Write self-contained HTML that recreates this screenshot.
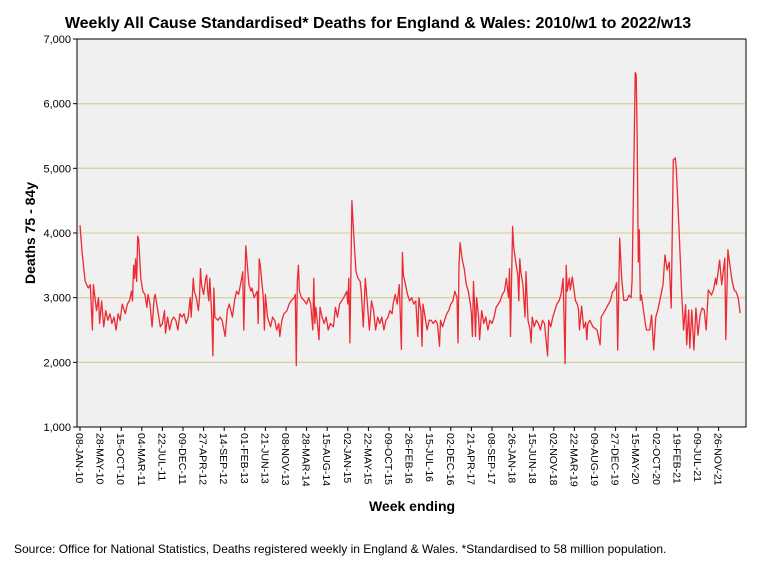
<!DOCTYPE html>
<html><head><meta charset="utf-8"><style>
body{margin:0;background:#fff;font-family:"Liberation Sans",Arial,sans-serif;}
svg text{font-family:"Liberation Sans",Arial,sans-serif;}
</style></head><body>
<svg id="chart" width="757" height="563" xmlns="http://www.w3.org/2000/svg">
<rect width="757" height="563" fill="#fff"/>
<text x="378" y="28" text-anchor="middle" font-size="16" font-weight="bold">Weekly All Cause Standardised* Deaths for England &amp; Wales: 2010/w1 to 2022/w13</text>
<rect x="77" y="39" width="669" height="388" fill="#f0f0f0" stroke="#000" stroke-width="1"/>
<g id="grid"></g><g id="yt"></g><g id="xt"></g>
<path id="series" fill="none" stroke="#ec2a33" stroke-width="1.3" stroke-linejoin="round"/>
<text transform="translate(35,233) rotate(-90)" text-anchor="middle" font-size="14" font-weight="bold">Deaths 75 - 84y</text>
<text x="412" y="511" text-anchor="middle" font-size="14" font-weight="bold">Week ending</text>
<text x="14" y="553" font-size="12">Source: Office for National Statistics, Deaths registered weekly in England &amp; Wales. *Standardised to 58 million population.</text>
</svg>
<script>
const weeks=[0,2,5,8,10,12,13,16,18,19,21,23,25,27,29,31,33,35,37,39,41,44,46,48,50,51,52,53,54,55,56,57,59,61,63,65,66,68,70,72,73,76,78,80,82,83,85,87,89,91,93,95,97,99,101,103,105,107,108,110,111,113,115,116,117,118,120,122,123,124,125,126,128,129,130,131,134,136,138,141,143,145,148,150,152,154,157,158,159,160,161,164,166,167,169,172,173,174,175,178,179,180,182,185,187,189,191,193,194,196,198,201,203,205,208,209,210,211,212,213,215,218,220,222,224,226,227,228,229,232,233,235,237,239,241,243,246,248,250,252,254,256,259,260,261,262,263,264,266,268,270,272,273,275,277,279,281,283,285,287,289,291,293,295,297,299,301,303,304,306,308,310,312,313,314,316,318,320,322,324,326,328,329,331,332,333,335,337,339,341,343,345,347,349,350,352,354,356,358,360,362,364,366,367,368,369,371,373,375,377,379,380,381,382,383,384,385,387,388,390,392,394,396,398,400,402,404,406,408,410,412,414,416,417,418,420,421,423,425,426,427,428,430,432,433,435,437,438,439,441,443,445,447,449,451,454,455,457,459,461,463,465,467,469,471,472,473,475,476,478,481,483,484,485,487,489,491,492,493,495,498,502,505,506,510,515,517,519,521,522,524,526,528,531,533,535,536,538,539,540,541,542,543,544,545,547,549,550,553,555,557,559,561,564,566,568,570,572,574,576,578,579,582,584,586,588,589,591,592,594,596,598,600,602,604,606,608,610,613,615,617,618,621,623,626,627,629,631,633,635,637,639,641];
const deaths=[4120,3700,3250,3150,3200,2500,3200,2800,3000,2600,2950,2550,2800,2650,2750,2600,2700,2500,2750,2650,2900,2750,2900,2950,3100,2950,3500,3300,3600,3250,3950,3900,3300,3100,3050,2850,3050,2900,2550,3000,3050,2750,2550,2600,2800,2450,2700,2500,2650,2700,2650,2500,2750,2700,2750,2600,2700,3000,2700,3300,3100,3000,2800,3000,3450,3200,3050,3300,3350,3100,2950,3300,2700,2100,3150,2700,2650,2700,2650,2400,2800,2900,2700,2950,3100,3050,3300,3400,2500,3200,3800,3200,3100,3150,3000,3100,2600,3600,3500,3000,2500,3050,2700,2550,2700,2650,2500,2600,2400,2650,2750,2800,2900,2950,3000,3050,1950,3250,3500,3100,3000,2950,2900,3000,2900,2500,3300,2600,2850,2350,2850,2700,2600,2700,2500,2600,2550,2850,2700,2900,2950,3000,3100,2900,3300,2300,3400,4500,3900,3400,3300,3250,3100,2550,3300,2900,2500,2950,2800,2500,2700,2600,2700,2500,2650,2700,2800,2750,2900,3050,2900,3200,2200,3700,3350,3200,3050,2950,3000,2900,2950,2400,3000,2800,2250,2900,2700,2500,2650,2650,2600,2650,2600,2250,2650,2550,2650,2750,2800,2900,2950,3100,3000,2300,3500,3850,3600,3450,3200,3100,2900,2750,2400,3250,2900,2400,3000,2700,2350,2800,2600,2700,2500,2650,2600,2700,2850,2900,2950,3050,3100,3300,3000,3450,2400,4100,3800,3550,3350,2950,3600,3400,3200,2700,3400,2650,2500,2300,2700,2550,2650,2600,2500,2650,2600,2100,2650,2550,2700,2800,2900,2950,3050,3300,1980,3500,3100,3300,3120,3320,2960,2890,2810,2500,2870,2530,2620,2350,2590,2650,2550,2500,2270,2700,2810,2960,3090,3120,3230,2190,3920,3270,2960,2960,3040,3000,3270,5280,6480,6450,5430,3550,4050,2960,3040,2810,2580,2500,2500,2730,2190,2700,2810,3040,3200,3660,3430,3550,2840,5130,5160,4970,3890,3120,2500,2890,2270,2810,2220,2810,2190,2840,2420,2730,2840,2810,2500,3120,3040,3120,3300,3200,3580,3200,3610,2350,3740,3500,3270,3120,3090,3000,2760];
const yTicks=[1000,2000,3000,4000,5000,6000,7000];
const xTickLabels=["08-JAN-10","28-MAY-10","15-OCT-10","04-MAR-11","22-JUL-11","09-DEC-11","27-APR-12","14-SEP-12","01-FEB-13","21-JUN-13","08-NOV-13","28-MAR-14","15-AUG-14","02-JAN-15","22-MAY-15","09-OCT-15","26-FEB-16","15-JUL-16","02-DEC-16","21-APR-17","08-SEP-17","26-JAN-18","15-JUN-18","02-NOV-18","22-MAR-19","09-AUG-19","27-DEC-19","15-MAY-20","02-OCT-20","19-FEB-21","09-JUL-21","26-NOV-21"];
const tickEvery=20;
const NS="http://www.w3.org/2000/svg";
function xs(w){return 80+w*1.03;}
function ys(v){return 427-(v-1000)*388/6000;}
const grid=document.getElementById('grid'),yt=document.getElementById('yt'),xt=document.getElementById('xt');
yTicks.forEach(v=>{
  const y=ys(v);
  if(v>1000&&v<7000){const g=document.createElementNS(NS,'line');
    
    
    g.setAttribute('x1',78);g.setAttribute('x2',745);g.setAttribute('y1',y);g.setAttribute('y2',y);
    g.setAttribute('stroke','#d9d2a6');g.setAttribute('stroke-width','1.3');grid.appendChild(g);}
  const t=document.createElementNS(NS,'line');
  
  
  t.setAttribute('x1',73);t.setAttribute('x2',77);t.setAttribute('y1',y);t.setAttribute('y2',y);t.setAttribute('stroke','#000');yt.appendChild(t);
  const l=document.createElementNS(NS,'text');
  
  
  l.setAttribute('x',71);l.setAttribute('y',y+4);l.setAttribute('text-anchor','end');l.setAttribute('font-size','11');
  l.textContent=v.toLocaleString('en-US');yt.appendChild(l);
});
xTickLabels.forEach((s,i)=>{
  const x=xs(i*tickEvery);
  const t=document.createElementNS(NS,'line');
  
  
  t.setAttribute('x1',x);t.setAttribute('x2',x);t.setAttribute('y1',427);t.setAttribute('y2',431);t.setAttribute('stroke','#000');xt.appendChild(t);
  const l=document.createElementNS(NS,'text');
  
  
  l.setAttribute('transform','translate('+(x-4)+',433) rotate(90)');l.setAttribute('font-size','10.5');
  l.textContent=s;xt.appendChild(l);
});
let d='';
weeks.forEach((w,i)=>{d+=(i?'L':'M')+xs(w).toFixed(1)+','+ys(deaths[i]).toFixed(1);});
document.getElementById('series').setAttribute('d',d);
</script>
</body></html>
